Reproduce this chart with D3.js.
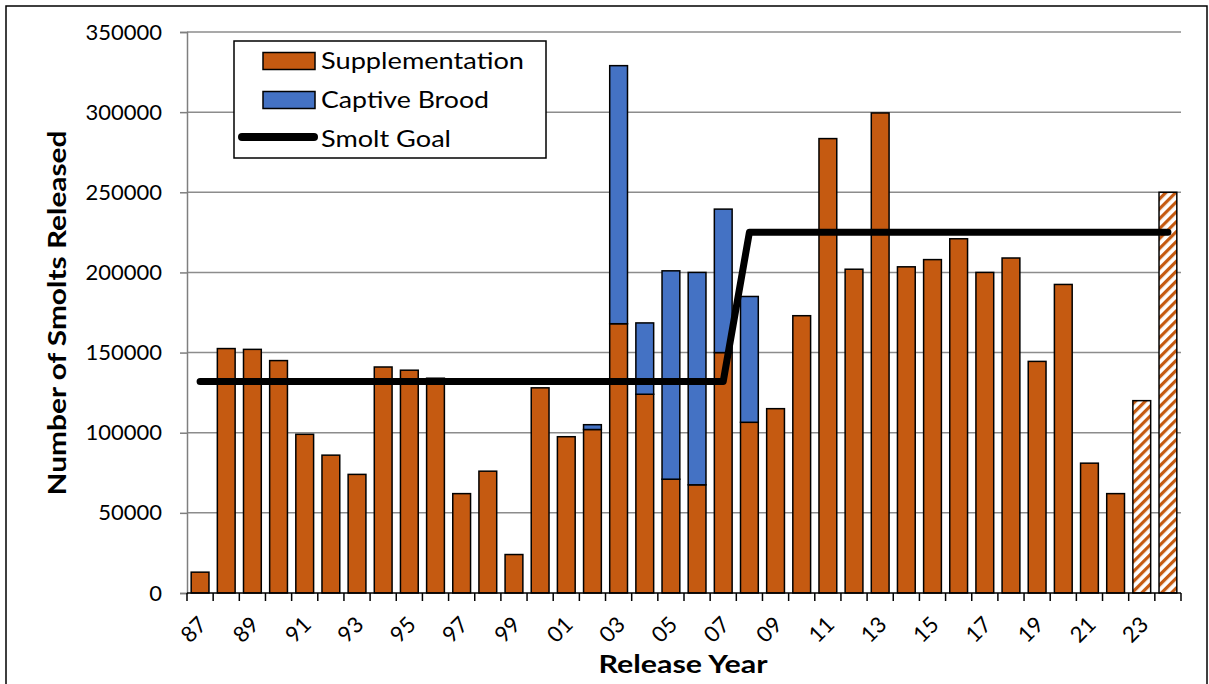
<!DOCTYPE html>
<html><head><meta charset="utf-8">
<script src="https://cdn.jsdelivr.net/npm/d3@7"></script>
<style>body{margin:0;background:#fff}svg{display:block}text{font-family:Lato,"Open Sans",sans-serif}</style>
</head><body>
<svg id="c" width="1209" height="684"></svg>
<script>
const years = ["87","88","89","90","91","92","93","94","95","96","97","98","99","00","01","02","03","04","05","06","07","08","09","10","11","12","13","14","15","16","17","18","19","20","21","22","23","24"];
const supplementation = [13000,152500,152000,145000,99000,86000,74000,141000,139000,134000,62000,76000,24000,128000,97500,102000,168000,124000,71000,67500,150000,106500,115000,173000,283500,202000,299500,203500,208000,221000,200000,209000,144500,192500,81000,62000,120000,250000];
const captiveBrood = [0,0,0,0,0,0,0,0,0,0,0,0,0,0,0,3000,161000,44500,130000,132500,89500,78500,0,0,0,0,0,0,0,0,0,0,0,0,0,0,0,0];
const projected = ["23","24"];
const smoltGoal = [132000,132000,132000,132000,132000,132000,132000,132000,132000,132000,132000,132000,132000,132000,132000,132000,132000,132000,132000,132000,132000,225000,225000,225000,225000,225000,225000,225000,225000,225000,225000,225000,225000,225000,225000,225000,225000,225000];
const yTicks = [0,50000,100000,150000,200000,250000,300000,350000];
const xLabels = ["87","89","91","93","95","97","99","01","03","05","07","09","11","13","15","17","19","21","23"];

const ORANGE = "#C55A11", BLUE = "#4472C4";
const svg = d3.select("#c");
const L = 187, R = 1181, B = 593, T = 32;
const x = d3.scaleBand().domain(years).range([L, R]).paddingInner(0.32).paddingOuter(0.16);
const y = d3.scaleLinear().domain([0, 350000]).range([B, T]);

const defs = svg.append("defs");
const pat = defs.append("pattern").attr("id","hatch").attr("patternUnits","userSpaceOnUse")
  .attr("width",7).attr("height",7).attr("patternTransform","rotate(45)");
pat.append("rect").attr("width",7).attr("height",7).attr("fill","#fff");
pat.append("rect").attr("x",0).attr("width",3.2).attr("height",7).attr("fill",ORANGE);

// outer border
svg.append("rect").attr("x",6).attr("y",6).attr("width",1201).attr("height",700)
  .attr("fill","none").attr("stroke","#000").attr("stroke-width",1.5);

// gridlines
svg.append("g").selectAll("line").data(yTicks.filter(d=>d>0)).join("line")
  .attr("x1",L).attr("x2",R).attr("y1",d=>y(d)).attr("y2",d=>y(d))
  .attr("stroke","#8c8c8c").attr("stroke-width",1.5);

// y axis
const ya = svg.append("g").attr("transform",`translate(${L},0)`)
  .call(d3.axisLeft(y).tickValues(yTicks).tickSize(7).tickPadding(18).tickFormat(d3.format("d")));
ya.select(".domain").attr("stroke","#7f7f7f").attr("stroke-width",1.5);
ya.selectAll(".tick line").attr("stroke","#7f7f7f").attr("stroke-width",1.5);
ya.selectAll("text").attr("font-size",22).attr("fill","#000").style("font-family","Lato");

// bars
const data = years.map((yr,i)=>({yr, s:supplementation[i], c:captiveBrood[i]}));
const g = svg.append("g");
g.selectAll("rect.s").data(data).join("rect").attr("class","s")
  .attr("x",d=>x(d.yr)).attr("width",x.bandwidth())
  .attr("y",d=>y(d.s)).attr("height",d=>y(0)-y(d.s))
  .attr("fill",d=>projected.includes(d.yr)?"url(#hatch)":ORANGE)
  .attr("stroke","#000").attr("stroke-width",1.5);
g.selectAll("rect.c").data(data.filter(d=>d.c>0)).join("rect").attr("class","c")
  .attr("x",d=>x(d.yr)).attr("width",x.bandwidth())
  .attr("y",d=>y(d.s+d.c)).attr("height",d=>y(d.s)-y(d.s+d.c))
  .attr("fill",BLUE).attr("stroke","#000").attr("stroke-width",1.5);

// x axis
const step = x.step();
const xa = svg.append("g");
xa.append("line").attr("x1",L).attr("x2",R).attr("y1",B).attr("y2",B).attr("stroke","#000").attr("stroke-width",1.5);
xa.selectAll("line.t").data(d3.range(years.length+1)).join("line").attr("class","t")
  .attr("x1",i=>L+i*step).attr("x2",i=>L+i*step).attr("y1",B).attr("y2",B+8)
  .attr("stroke","#000").attr("stroke-width",1.5);
xa.selectAll("text").data(xLabels).join("text")
  .attr("transform",d=>`translate(${x(d)+x.bandwidth()/2-3},${B+22}) rotate(-45)`)
  .attr("text-anchor","end").attr("dy","0.7em").attr("font-size",22).text(d=>d);

// smolt goal line
const line = d3.line().x((d,i)=>x(years[i])+x.bandwidth()/2).y(d=>y(d));
svg.append("path").attr("d",line(smoltGoal)).attr("fill","none")
  .attr("stroke","#000").attr("stroke-width",7).attr("stroke-linecap","round").attr("stroke-linejoin","round");

// axis titles
svg.append("text").attr("x",683).attr("y",673).attr("text-anchor","middle")
  .attr("font-size",25).attr("font-weight","bold").attr("textLength",169).attr("lengthAdjust","spacingAndGlyphs").text("Release Year");
svg.append("text").attr("transform","translate(66,313) rotate(-90)").attr("text-anchor","middle")
  .attr("font-size",25).attr("font-weight","bold").attr("textLength",365).attr("lengthAdjust","spacingAndGlyphs").text("Number of Smolts Released");

// legend
const lg = svg.append("g");
lg.append("rect").attr("x",234).attr("y",41).attr("width",312).attr("height",117)
  .attr("fill","#fff").attr("stroke","#000").attr("stroke-width",1.5);
const items = [{n:"Supplementation",t:"rect",c:ORANGE,w:203},{n:"Captive Brood",t:"rect",c:BLUE,w:168},{n:"Smolt Goal",t:"line",w:130}];
items.forEach((it,i)=>{
  const cy = 61 + i*39;
  if(it.t==="rect") lg.append("rect").attr("x",263).attr("y",cy-8.5).attr("width",52).attr("height",17)
    .attr("fill",it.c).attr("stroke","#000").attr("stroke-width",1.5);
  else lg.append("line").attr("x1",242).attr("x2",314).attr("y1",cy-2).attr("y2",cy-2)
    .attr("stroke","#000").attr("stroke-width",8).attr("stroke-linecap","round");
  lg.append("text").attr("x",321).attr("y",cy+8).attr("font-size",23).attr("textLength",it.w).attr("lengthAdjust","spacingAndGlyphs").text(it.n);
});
</script>
</body></html>
